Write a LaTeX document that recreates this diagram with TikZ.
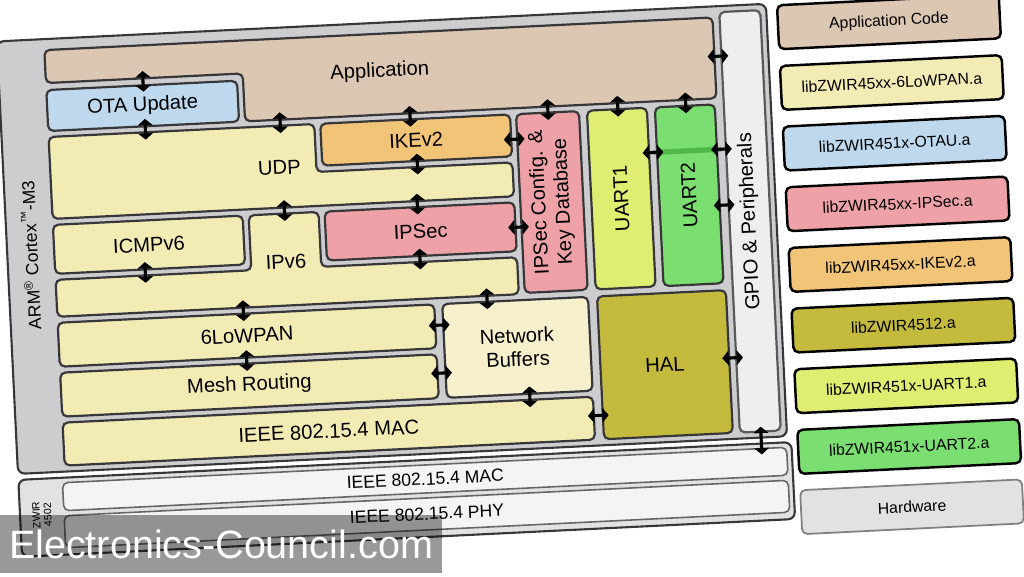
\documentclass[tikz,border=0pt]{standalone}
\usepackage{fontspec}
\setmainfont{Liberation Sans}
\usepackage{tikz}
\usetikzlibrary{shapes.arrows, positioning}

\definecolor{edgegray}{RGB}{55,55,58}
\definecolor{boardgray}{RGB}{205,205,208}
\definecolor{apptan}{RGB}{219,199,178}
\definecolor{otablue}{RGB}{190,217,237}
\definecolor{softyel}{RGB}{243,235,180}
\definecolor{nbufyel}{RGB}{246,240,205}
\definecolor{ikeorange}{RGB}{241,196,120}
\definecolor{ipspink}{RGB}{238,162,168}
\definecolor{uartone}{RGB}{223,237,112}
\definecolor{uarttwo}{RGB}{122,222,112}
\definecolor{halolive}{RGB}{196,187,62}
\definecolor{gpiogray}{RGB}{238,238,238}
\definecolor{hwgray}{RGB}{226,226,228}
\definecolor{rowgray}{RGB}{244,244,244}

\newcommand\pxl{0.02cm}

\begin{document}
\begin{tikzpicture}[x=0.02cm, y=-0.02cm,
    blk/.style={draw=edgegray, line width=1.25pt, rounded corners=3pt, inner sep=0pt, outer sep=0pt, font=\fontsize{11.5}{13.5}\selectfont, align=center},
    lbl/.style={font=\fontsize{11.5}{13.5}\selectfont, align=center, inner sep=1pt},
    hwrow/.style={draw=gray!80!black, line width=0.9pt, fill=rowgray, rounded corners=3pt, inner sep=0pt, minimum width=725*\pxl, font=\fontsize{10}{12}\selectfont},
    link/.style={double arrow, fill=black, draw=black, line width=0.6pt, inner sep=0pt, minimum width=7pt, minimum height=11pt, double arrow head extend=1.5pt, double arrow tip angle=100},
    vlink/.style={link, rotate=90},
    hlink/.style={link},
    libbox/.style={draw=black, line width=1.4pt, rounded corners=3pt, minimum width=222*\pxl, minimum height=44*\pxl, inner sep=0pt, font=\fontsize{9}{11}\selectfont}
]
\useasboundingbox (0,0) rectangle (1024,577);
\fill[white] (0,0) rectangle (1024,577);

\begin{scope}[rotate around={2.8:(400,260)}, transform shape]
% board with the software stack
\draw[draw=edgegray, line width=1.2pt, fill=boardgray, rounded corners=4pt] (8,22) rectangle (778,455);
\node[lbl, rotate=90, font=\fontsize{10}{12}\selectfont] (arm) at (31,237) {ARM\textsuperscript{\textregistered} Cortex\textsuperscript{\texttrademark}-M3};

\draw[blk, fill=apptan] (55,33) -- (724,33) -- (724,114) -- (252,114) -- (252,66) -- (55,66) -- cycle;
\node[lbl] (app) at (389,71) {Application};
\node[blk, fill=otablue, minimum width=191*\pxl, minimum height=41*\pxl] (ota) at (150.5,93.5) {OTA Update};

\draw[blk, fill=softyel] (55,120) -- (321,120) -- (321,168) -- (517,168) -- (517,202) -- (55,202) -- cycle;
\node[lbl] (udp) at (284,162) {UDP};
\node[blk, fill=ikeorange, minimum width=190*\pxl, minimum height=42*\pxl] (ike) at (422,141) {IKEv2};

\draw[blk, fill=softyel] (55,263) -- (251,263) -- (251,208) -- (321,208) -- (321,263) -- (517,263) -- (517,300) -- (55,300) -- cycle;
\node[lbl] (ipv6) at (286,256) {IPv6};
\node[blk, fill=softyel, minimum width=190*\pxl, minimum height=49*\pxl] (icmp) at (150,232.5) {ICMPv6};
\node[blk, fill=ipspink, minimum width=190*\pxl, minimum height=49*\pxl] (ipsec) at (422,232.5) {IPSec};

\node[blk, fill=ipspink, rotate=90, minimum width=179*\pxl, minimum height=63*\pxl] (ipscfg) at (554.5,209.5) {IPSec Config. \&\\Key Database};
\node[blk, fill=uartone, rotate=90, minimum width=179*\pxl, minimum height=60*\pxl] (uart1) at (624,209.5) {UART1};
\node[blk, fill=uarttwo, rotate=90, minimum width=179*\pxl, minimum height=60*\pxl] (uart2) at (692,209.5) {UART2};
\node[blk, fill=gpiogray, draw=gray!70!black, rotate=90, minimum width=421*\pxl, minimum height=41*\pxl] (gpio) at (751.5,238.5) {GPIO \& Peripherals};

\node[blk, fill=softyel, minimum width=377*\pxl, minimum height=44*\pxl] (lowpan) at (243.5,328) {6LoWPAN};
\node[blk, fill=softyel, minimum width=377*\pxl, minimum height=44*\pxl] (mesh) at (243.5,378) {Mesh Routing};
\node[blk, fill=nbufyel, minimum width=146*\pxl, minimum height=94*\pxl] (netbuf) at (513,353) {Network\\Buffers};
\node[blk, fill=softyel, minimum width=531*\pxl, minimum height=43*\pxl] (mac) at (320.5,427.5) {IEEE 802.15.4 MAC};
\node[blk, fill=halolive, minimum width=129*\pxl, minimum height=143*\pxl] (hal) at (659.5,377.5) {HAL};

% hardware
\draw[draw=edgegray, line width=1.2pt, fill=hwgray, rounded corners=4pt] (8,461) rectangle (782,538);
\node[hwrow, minimum height=28*\pxl] (hwmac) at (414.5,480) {IEEE 802.15.4 MAC};
\node[hwrow, minimum height=32*\pxl] (hwphy) at (414.5,515) {IEEE 802.15.4 PHY};
\node[rotate=90, font=\fontsize{6}{6.5}\selectfont, align=center, inner sep=0pt] (zwir) at (30,497) {ZWIR\\4502};

% interfaces
\draw[green!45!black, line width=3pt, opacity=0.35] (658,165) -- (726.5,165);
\node[vlink] (appota) at (152,69) {};
\node[vlink] (otaudp) at (152,117) {};
\node[vlink] (appudp) at (287,117) {};
\node[vlink] (appike) at (417,117) {};
\node[vlink] (appcfg) at (555,117) {};
\node[vlink] (appu1) at (625,117) {};
\node[vlink] (appu2) at (693,117) {};
\node[hlink] (appgpio) at (727.5,72) {};
\node[hlink] (ikecfg) at (520,145) {};
\node[vlink] (ikeudp) at (422,165) {};
\node[vlink] (udpip) at (287,205) {};
\node[vlink] (udpsec) at (420,205) {};
\node[hlink] (seccfg) at (520,233) {};
\node[vlink] (icmpip) at (145,260) {};
\node[vlink] (secip) at (420,260) {};
\node[vlink] (iplow) at (241,303) {};
\node[vlink] (ipbuf) at (485,303) {};
\node[vlink] (lowmesh) at (242,353) {};
\node[hlink] (lowbuf) at (436,327) {};
\node[hlink] (meshbuf) at (436,375) {};
\node[vlink] (bufmac) at (523,403) {};
\node[hlink] (machal) at (590.5,425) {};
\node[hlink] (u1u2) at (658,165) {};
\node[hlink] (u1gpio) at (726.5,165) {};
\node[hlink] (u2gpio) at (726.5,221) {};
\node[hlink] (halgpio) at (727.5,374) {};
\node[vlink, minimum height=15pt] (boardhw) at (752,458) {};

% libraries
\node[libbox, fill=apptan] (lgapp) at (900,46) {Application Code};
\node[libbox, fill=softyel, below=0.286cm of lgapp] (lglow) {libZWIR45xx-6LoWPAN.a};
\node[libbox, fill=otablue, below=0.286cm of lglow] (lgota) {libZWIR451x-OTAU.a};
\node[libbox, fill=ipspink, below=0.286cm of lgota] (lgsec) {libZWIR45xx-IPSec.a};
\node[libbox, fill=ikeorange, below=0.286cm of lgsec] (lgike) {libZWIR45xx-IKEv2.a};
\node[libbox, fill=halolive, below=0.286cm of lgike] (lghal) {libZWIR4512.a};
\node[libbox, fill=uartone, below=0.286cm of lghal] (lgu1) {libZWIR451x-UART1.a};
\node[libbox, fill=uarttwo, below=0.286cm of lgu1] (lgu2) {libZWIR451x-UART2.a};
\node[libbox, fill=hwgray, draw=gray, line width=1pt, below=0.286cm of lgu2] (lghw) {Hardware};
\end{scope}

\node[fill=black, fill opacity=0.4, text opacity=1, text=white, minimum width=442*\pxl, minimum height=58*\pxl, inner sep=0pt, font=\fontsize{22.5}{24}\selectfont] (wmark) at (221,544) {Electronics-Council.com};
\end{tikzpicture}
\end{document}
